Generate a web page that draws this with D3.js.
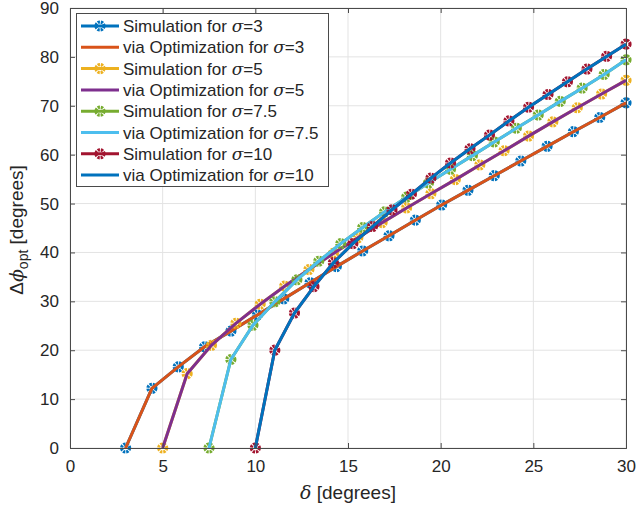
<!DOCTYPE html>
<html><head><meta charset="utf-8">
<script src="https://cdn.jsdelivr.net/npm/d3@7"></script>
<style>body{margin:0;background:#fff}svg{display:block}text{font-family:"Liberation Sans",Arial,Helvetica,sans-serif;fill:#262626}</style>
</head><body><svg id="c" width="636" height="507"></svg>
<script>
const delta3 = [3, 4.42, 5.84, 7.26, 8.68, 10.11, 11.53, 12.95, 14.37, 15.79, 17.21, 18.63, 20.05, 21.47, 22.89, 24.32, 25.74, 27.16, 28.58, 30];
const delta5 = [5, 6.32, 7.63, 8.95, 10.26, 11.58, 12.89, 14.21, 15.53, 16.84, 18.16, 19.47, 20.79, 22.11, 23.42, 24.74, 26.05, 27.37, 28.68, 30];
const delta75 = [7.5, 8.68, 9.87, 11.05, 12.24, 13.42, 14.61, 15.79, 16.97, 18.16, 19.34, 20.53, 21.71, 22.89, 24.08, 25.26, 26.45, 27.63, 28.82, 30];
const delta10 = [10, 11.05, 12.11, 13.16, 14.21, 15.26, 16.32, 17.37, 18.42, 19.47, 20.53, 21.58, 22.63, 23.68, 24.74, 25.79, 26.84, 27.89, 28.95, 30];

const sim3 = [0, 12.2, 16.6, 20.7, 23.9, 27.2, 30.5, 33.8, 37.1, 40.3, 43.4, 46.6, 49.7, 52.7, 55.7, 58.7, 61.7, 64.7, 67.6, 70.6];
const opt3 = [0, 12.2, 16.6, 20.7, 23.9, 27.2, 30.5, 33.8, 37.1, 40.3, 43.4, 46.6, 49.7, 52.7, 55.7, 58.7, 61.7, 64.7, 67.6, 70.6];
const sim5 = [0, 15.2, 21.0, 25.5, 29.4, 33.1, 36.5, 39.8, 43.0, 46.1, 49.1, 52.0, 54.9, 57.9, 60.8, 63.8, 66.7, 69.6, 72.4, 75.2];
const opt5 = [0, 15.2, 21.0, 25.5, 29.4, 33.1, 36.5, 39.8, 43.0, 46.1, 49.1, 52.0, 54.9, 57.9, 60.8, 63.8, 66.7, 69.6, 72.4, 75.2];
const sim75 = [0, 18.1, 25.1, 29.9, 34.4, 38.2, 41.8, 45.1, 48.3, 51.3, 54.2, 57.0, 59.8, 62.6, 65.4, 68.1, 70.9, 73.6, 76.4, 79.4];
const opt75 = [0, 18.1, 25.1, 29.9, 34.4, 38.2, 41.8, 45.1, 48.3, 51.3, 54.2, 57.0, 59.8, 62.6, 65.4, 68.1, 70.9, 73.6, 76.4, 79.4];
const sim10 = [0, 20.0, 27.6, 33.0, 37.9, 41.8, 45.3, 48.7, 51.9, 55.2, 58.3, 61.2, 64.0, 66.9, 69.7, 72.3, 74.9, 77.5, 80.1, 82.6];
const opt10 = [0, 20.0, 27.6, 33.0, 37.9, 41.8, 45.3, 48.7, 51.9, 55.2, 58.3, 61.2, 64.0, 66.9, 69.7, 72.3, 74.9, 77.5, 80.1, 82.6];

const xTicks = [0, 5, 10, 15, 20, 25, 30];
const yTicks = [0, 10, 20, 30, 40, 50, 60, 70, 80, 90];

const seriesNames = ["Simulation for ", "via Optimization for ", "Simulation for ", "via Optimization for ", "Simulation for ", "via Optimization for ", "Simulation for ", "via Optimization for "];
const sigmaLabels = ["3", "3", "5", "5", "7.5", "7.5", "10", "10"];
const colors = ["#0072BD", "#D95319", "#EDB120", "#7E2F8E", "#77AC30", "#4DBEEE", "#A2142F", "#0072BD"];

const series = [
  {x: delta3, y: sim3, marker: true},
  {x: delta3, y: opt3, marker: false},
  {x: delta5, y: sim5, marker: true},
  {x: delta5, y: opt5, marker: false},
  {x: delta75, y: sim75, marker: true},
  {x: delta75, y: opt75, marker: false},
  {x: delta10, y: sim10, marker: true},
  {x: delta10, y: opt10, marker: false}
];

const svg = d3.select("#c");
const L = 70, R = 626, T = 8, B = 448;
const x = d3.scaleLinear().domain([0, 30]).range([L, R]);
const y = d3.scaleLinear().domain([0, 90]).range([B, T]);
const axisCol = "#4a4a4a";

// grid
const g = svg.append("g");
g.selectAll(".gx").data(xTicks).join("line")
  .attr("x1", d => x(d)).attr("x2", d => x(d)).attr("y1", T).attr("y2", B)
  .attr("stroke", "#e3e3e3").attr("stroke-width", 1);
g.selectAll(".gy").data(yTicks).join("line")
  .attr("y1", d => y(d)).attr("y2", d => y(d)).attr("x1", L).attr("x2", R)
  .attr("stroke", "#e3e3e3").attr("stroke-width", 1);

// data
const line = d3.line().x(d => x(d[0])).y(d => y(d[1]));
function marker(sel, col) {
  sel.append("circle").attr("r", 4.0).attr("fill", "none").attr("stroke", col)
    .attr("stroke-width", 3.2).attr("stroke-dasharray", "2.3 0.9");
}
series.forEach((s, i) => {
  const pts = s.x.map((v, k) => [v, s.y[k]]);
  const gs = svg.append("g");
  gs.append("path").attr("d", line(pts)).attr("fill", "none")
    .attr("stroke", colors[i]).attr("stroke-width", 3).attr("stroke-linejoin", "miter");
  if (s.marker) {
    pts.forEach(p => {
      const m = gs.append("g").attr("transform", `translate(${x(p[0])},${y(p[1])})`);
      marker(m, colors[i]);
    });
  }
});

// axes
const axB = svg.append("g").attr("transform", `translate(0,${B})`)
  .call(d3.axisBottom(x).tickValues(xTicks).tickSize(-5).tickPadding(12).tickFormat(d3.format("d")));
const axT = svg.append("g").attr("transform", `translate(0,${T})`)
  .call(d3.axisTop(x).tickValues(xTicks).tickSize(-5).tickFormat(""));
const axL = svg.append("g").attr("transform", `translate(${L},0)`)
  .call(d3.axisLeft(y).tickValues(yTicks).tickSize(-5).tickPadding(11).tickFormat(d3.format("d")));
const axR = svg.append("g").attr("transform", `translate(${R},0)`)
  .call(d3.axisRight(y).tickValues(yTicks).tickSize(-5).tickFormat(""));
[axB, axT, axL, axR].forEach(a => {
  a.select(".domain").attr("stroke", axisCol).attr("stroke-width", 1);
  a.selectAll(".tick line").attr("stroke", axisCol);
  a.selectAll(".tick text").style("font-size", "17px").attr("fill", "#262626")
    .style("font-family", "'Liberation Sans', Arial, sans-serif");
});

// axis labels
const xl = svg.append("text").attr("x", (L + R) / 2).attr("y", 499).attr("text-anchor", "middle").style("font-size", "19px");
xl.append("tspan").attr("font-style", "italic").style("font-family", "'DejaVu Serif', serif").text("δ");
xl.append("tspan").text(" [degrees]");

const yl = svg.append("text").attr("transform", `translate(23,${(T + B) / 2 + 2}) rotate(-90)`)
  .attr("text-anchor", "middle").style("font-size", "19px");
yl.append("tspan").text("Δ");
yl.append("tspan").attr("font-style", "italic").style("font-family", "'DejaVu Serif', serif").text("ϕ");
yl.append("tspan").attr("dy", 5).style("font-size", "14px").text("opt");
yl.append("tspan").attr("dy", -5).text(" [degrees]");

// legend
const lg = svg.append("g");
lg.append("rect").attr("x", 76.5).attr("y", 13.5).attr("width", 252).attr("height", 173)
  .attr("fill", "#fff").attr("stroke", axisCol).attr("stroke-width", 1);
const rowY = d3.range(8).map(i => 26 + i * 21.3);
seriesNames.forEach((nm, i) => {
  const yy = rowY[i];
  lg.append("line").attr("x1", 81).attr("x2", 119).attr("y1", yy).attr("y2", yy)
    .attr("stroke", colors[i]).attr("stroke-width", 3);
  if (series[i].marker) {
    const m = lg.append("g").attr("transform", `translate(100,${yy})`);
    marker(m, colors[i]);
  }
  const t = lg.append("text").attr("x", 123).attr("y", yy + 6).style("font-size", "17px");
  t.append("tspan").text(nm);
  t.append("tspan").attr("font-style", "italic").style("font-family", "'DejaVu Serif', serif").text("σ");
  t.append("tspan").text("=" + sigmaLabels[i]);
});
</script></body></html>
